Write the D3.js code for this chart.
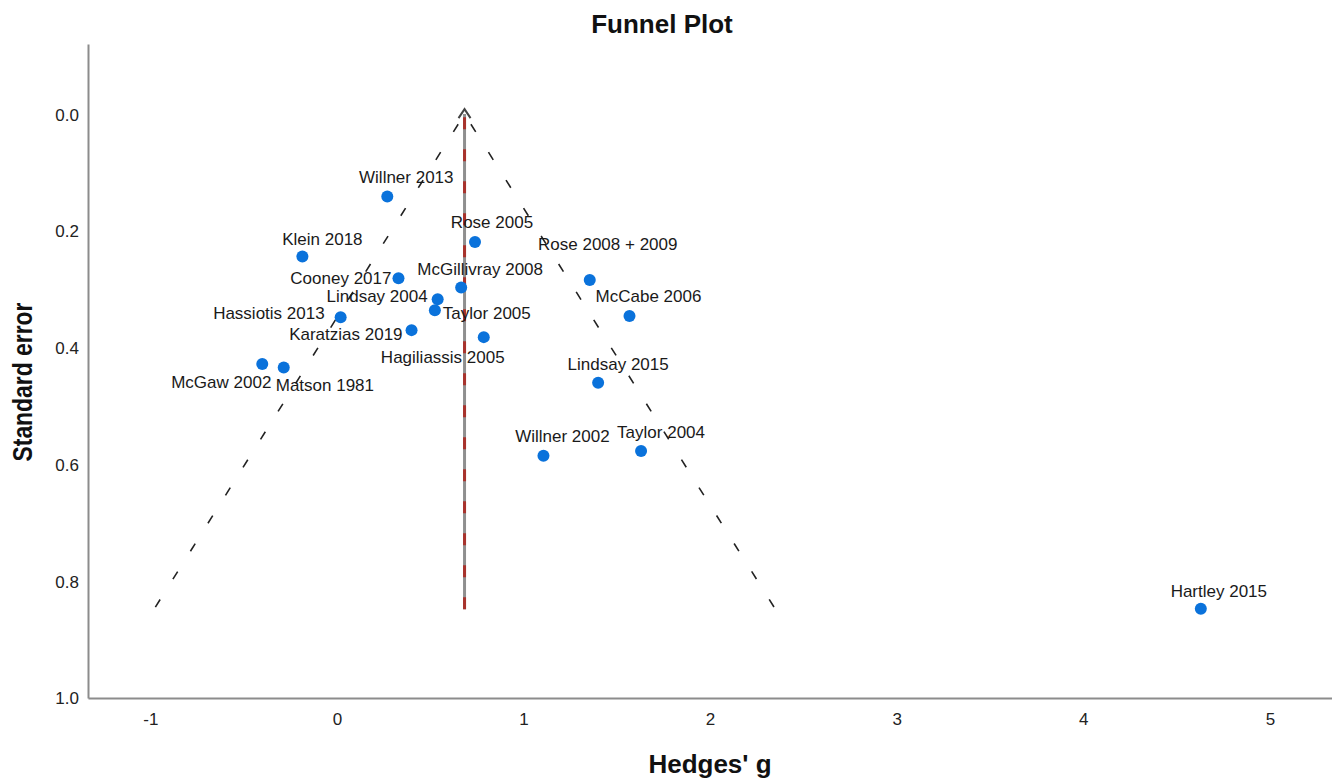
<!DOCTYPE html>
<html>
<head>
<meta charset="utf-8">
<script src="https://cdn.jsdelivr.net/npm/d3@7"></script>
<style>
  body { margin: 0; background: #fff; }
  svg { display: block; font-family: "Liberation Sans", Arial, sans-serif; }
  .axis path { stroke: #8c8c8c; stroke-width: 2; }
  .axis text { font-size: 17px; fill: #222; font-family: "Liberation Sans", Arial, sans-serif; }
</style>
</head>
<body>
<svg id="chart"></svg>
<script>
// Study data
const studies = [
  "Willner 2013", "Klein 2018", "Cooney 2017", "Hassiotis 2013", "Lindsay 2004",
  "Taylor 2005", "Karatzias 2019", "McGaw 2002", "Matson 1981", "McGillivray 2008",
  "Hagiliassis 2005", "Rose 2005", "Rose 2008 + 2009", "McCabe 2006", "Lindsay 2015",
  "Willner 2002", "Taylor 2004", "Hartley 2015"
];
const hedgesG = [
  0.27, -0.185, 0.33, 0.02, 0.54,
  0.525, 0.40, -0.40, -0.285, 0.666,
  0.787, 0.74, 1.355, 1.568, 1.40,
  1.107, 1.63, 4.63
];
const standardError = [
  0.141, 0.244, 0.281, 0.348, 0.317,
  0.336, 0.370, 0.428, 0.434, 0.297,
  0.382, 0.219, 0.284, 0.346, 0.460,
  0.585, 0.577, 0.847
];

// pooled effect line and pseudo 95% limits
const pooledEffect = 0.684;
const pooledLine = [[0.684, 0.848], [0.684, 0.0]];
const funnelLeft = [[0.684, 0.0], [-0.98, 0.848]];
const funnelRight = [[0.684, 0.0], [2.35, 0.848]];

const xTicks = [-1, 0, 1, 2, 3, 4, 5];
const yTicks = [0.0, 0.2, 0.4, 0.6, 0.8, 1.0];

// label layout: anchor, offset from dot centre
const labelLayout = {
  "Willner 2013": ["middle", 19, -19],
  "Klein 2018": ["middle", 20, -18],
  "Cooney 2017": ["end", -7, 0],
  "Hassiotis 2013": ["end", -16, -4],
  "Lindsay 2004": ["end", -10, -3],
  "Taylor 2005": ["start", 8, 3],
  "Karatzias 2019": ["end", -9, 4],
  "McGaw 2002": ["middle", -41, 18],
  "Matson 1981": ["start", -8, 18],
  "McGillivray 2008": ["middle", 19, -18],
  "Hagiliassis 2005": ["middle", -41, 20],
  "Rose 2005": ["middle", 17, -20],
  "Rose 2008 + 2009": ["middle", 18, -36],
  "McCabe 2006": ["middle", 19, -20],
  "Lindsay 2015": ["middle", 20, -19],
  "Willner 2002": ["middle", 19, -20],
  "Taylor 2004": ["middle", 20, -19],
  "Hartley 2015": ["middle", 18, -18]
};

const width = 1332, height = 780;
const margin = { top: 44, right: 0, bottom: 82, left: 88 };

const svg = d3.select("#chart").attr("width", width).attr("height", height);

const x = d3.scaleLinear()
  .domain([-1.334, 5.333])
  .range([margin.left, width - margin.right]);

const y = d3.scaleLinear()
  .domain([-0.12, 1.0])
  .range([margin.top, height - margin.bottom]);

const data = studies.map((s, i) => ({ name: s, g: hedgesG[i], se: standardError[i] }));

// Title
svg.append("text")
  .attr("x", 662)
  .attr("y", 33)
  .attr("text-anchor", "middle")
  .style("font-size", "26px")
  .style("font-weight", "bold")
  .style("fill", "#111")
  .text("Funnel Plot");

// Axes
svg.append("g")
  .attr("class", "axis")
  .attr("transform", `translate(${margin.left},0)`)
  .call(d3.axisLeft(y).tickValues(yTicks).tickFormat(d3.format(".1f")).tickSize(0).tickSizeOuter(0).tickPadding(9))
  .call((g) => g.selectAll("text").attr("dy", "0.35em"));

svg.append("g")
  .attr("class", "axis")
  .attr("transform", `translate(0,${height - margin.bottom})`)
  .call(d3.axisBottom(x).tickValues(xTicks).tickFormat((d) => String(d)).tickSize(0).tickSizeOuter(0).tickPadding(15));

// Axis labels
svg.append("text")
  .attr("x", 710)
  .attr("y", 773)
  .attr("text-anchor", "middle")
  .style("font-size", "26px")
  .style("font-weight", "bold")
  .style("fill", "#111")
  .text("Hedges' g");

svg.append("text")
  .attr("transform", "translate(32,382) rotate(-90)")
  .attr("text-anchor", "middle")
  .attr("textLength", 159)
  .attr("lengthAdjust", "spacingAndGlyphs")
  .style("font-size", "27px")
  .style("font-weight", "bold")
  .style("fill", "#111")
  .text("Standard error");

const line = d3.line().x((d) => x(d[0])).y((d) => y(d[1]));

// Funnel limits (dashed)
[funnelLeft, funnelRight].forEach((f) => {
  svg.append("path")
    .datum(f)
    .attr("fill", "none")
    .attr("stroke", "#222")
    .attr("stroke-width", 1.6)
    .attr("stroke-dasharray", "9,24")
    .attr("stroke-dashoffset", -12)
    .attr("d", line);
});

// Pooled effect: grey line with arrow and red dashes
svg.append("path")
  .datum(pooledLine)
  .attr("fill", "none")
  .attr("stroke", "#8f8f8f")
  .attr("stroke-width", 3)
  .attr("d", line);

svg.append("path")
  .datum([[pooledEffect, 0.848], [pooledEffect, 0.0]])
  .attr("fill", "none")
  .attr("stroke", "#a8322c")
  .attr("stroke-width", 3)
  .attr("stroke-dasharray", "12,20")
  .attr("d", line);

const ax = x(pooledEffect), ay = y(0) - 5;
svg.append("path")
  .attr("d", `M${ax - 6},${ay + 9} L${ax},${ay} L${ax + 6},${ay + 9}`)
  .attr("fill", "none")
  .attr("stroke", "#444")
  .attr("stroke-width", 2);

// Points
svg.append("g")
  .selectAll("circle")
  .data(data)
  .join("circle")
  .attr("cx", (d) => x(d.g))
  .attr("cy", (d) => y(d.se))
  .attr("r", 6)
  .attr("fill", "#0a72db");

// Study labels
svg.append("g")
  .selectAll("text")
  .data(data)
  .join("text")
  .attr("x", (d) => x(d.g) + labelLayout[d.name][1])
  .attr("y", (d) => y(d.se) + labelLayout[d.name][2])
  .attr("dy", "0.35em")
  .attr("text-anchor", (d) => labelLayout[d.name][0])
  .style("font-size", "17px")
  .style("fill", "#1a1a1a")
  .text((d) => d.name);
</script>
</body>
</html>
